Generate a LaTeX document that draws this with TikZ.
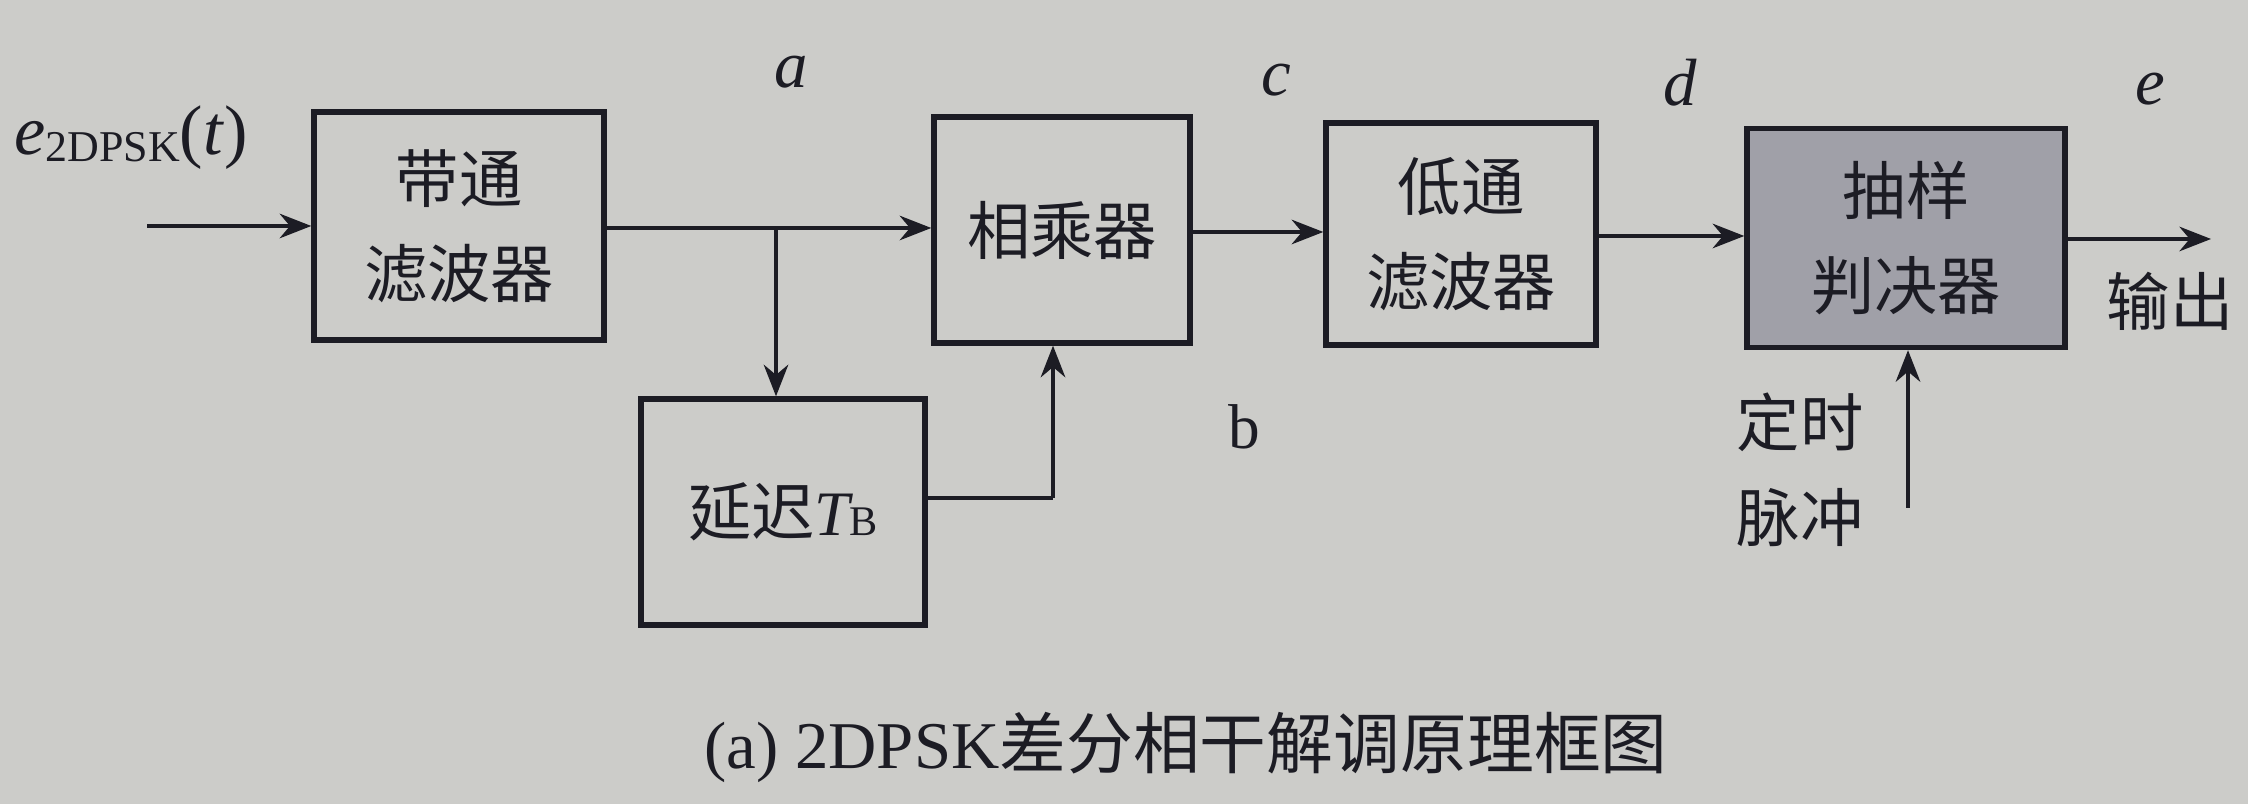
\documentclass[tikz,border=0pt]{standalone}
\usepackage{fontspec}
\setmainfont{Liberation Serif}
\newfontfamily\cjk{Noto Sans CJK SC}
\usetikzlibrary{arrows.meta}
\definecolor{paper}{RGB}{204,204,201}
\definecolor{ink}{RGB}{28,28,36}
\definecolor{shade}{RGB}{160,160,168}
\tikzset{
  blk/.style={draw=ink, line width=1.5pt, inner sep=0pt, align=center,
    font=\cjk\fontsize{18}{27}\selectfont, text=ink},
  wire/.style={draw=ink, line width=0.9pt, -{Stealth[length=9pt,width=7pt]}},
  plain/.style={draw=ink, line width=0.9pt},
  lbl/.style={text=ink, font=\fontsize{19}{23}\selectfont\itshape, inner sep=0pt},
}
\begin{document}
\begin{tikzpicture}[x=0.01cm,y=-0.01cm]
\fill[paper] (0,0) rectangle (2248,804);
\useasboundingbox (0,0) rectangle (2248,804);

\node[blk, minimum width=2.90cm, minimum height=2.28cm] (bpf) at (459,226) {带通\\滤波器};
\node[blk, minimum width=2.56cm, minimum height=2.26cm] (mul) at (1062,230) {相乘器};
\node[blk, minimum width=2.84cm, minimum height=2.26cm] (dly) at (783,512) {延迟{\rmfamily\itshape T}{\rmfamily\fontsize{12}{14}\selectfont B}};
\node[blk, minimum width=2.70cm, minimum height=2.22cm] (lpf) at (1461,234) {低通\\滤波器};
\node[blk, minimum width=3.18cm, minimum height=2.19cm, fill=shade] (dec) at (1906,238) {抽样\\判决器};

\coordinate (in) at (147,226);
\coordinate (br) at (776,228);
\coordinate (fb) at (1053,498);
\coordinate (out) at (2211,239);
\coordinate (tm) at (1908,508);

\draw[wire] (in) -- (in -| bpf.west);
\draw[wire] (bpf.east |- br) -- (br -| mul.west);
\draw[wire] (br) -- (br |- dly.north);
\draw[plain] (fb -| dly.east) -- (fb);
\draw[wire] (fb) -- (fb |- mul.south);
\draw[wire] (mul.east |- 0,232) -- (lpf.west |- 0,232);
\draw[wire] (lpf.east |- 0,236) -- (dec.west |- 0,236);
\draw[wire] (dec.east |- out) -- (out);
\draw[wire] (tm) -- (tm |- dec.south);

\node[lbl] (la) at (791,72) {a};
\node[lbl] (lc) at (1276,80) {c};
\node[lbl] (ld) at (1680,83) {d};
\node[lbl] (le) at (2150,89) {e};
\node[text=ink, font=\fontsize{18}{22}\selectfont, inner sep=0pt] (lb) at (1244,427) {b};
\node[text=ink, inner sep=0pt, font=\fontsize{20}{24}\selectfont] (lin) at (131,138)
  {\textit{e}{\fontsize{12.5}{14}\selectfont\raisebox{-0.35ex}{2DPSK}}(\textit{t})};
\node[text=ink, inner sep=0pt, font=\cjk\fontsize{18}{22}\selectfont] (lout) at (2170,301) {输出};
\node[text=ink, inner sep=0pt, align=center, font=\cjk\fontsize{18}{27}\selectfont] (ltm) at (1800,470) {定时\\脉冲};
\node[text=ink, inner sep=0pt, font=\fontsize{19}{23}\selectfont] (cap) at (1186,747)
  {(a) 2DPSK{\cjk 差分相干解调原理框图}};
\end{tikzpicture}
\end{document}
